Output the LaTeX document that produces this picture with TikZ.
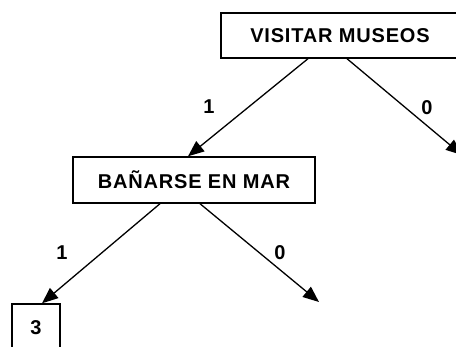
\documentclass[tikz,border=0pt]{standalone}
\usepackage{fontspec}
\setmainfont{Liberation Sans}
\usetikzlibrary{arrows.meta,calc}
\newfontfamily\boxfont[LetterSpace=4]{Liberation Sans}
\begin{document}
\begin{tikzpicture}[x=1pt,y=-1pt,
  box/.style={draw,line width=1.4pt,inner sep=0pt,font=\boxfont\fontsize{20}{23}\selectfont\bfseries},
  lbl/.style={inner sep=0pt,font=\fontsize{20}{23}\selectfont\bfseries},
  arr/.style={line width=1.3pt,-{Triangle[length=16pt,width=13pt]}}]
\useasboundingbox (0,0) rectangle (456,347);
\clip (0,0) rectangle (456,347);
\node[box,minimum width=238pt,minimum height=45pt] (v) at (340,35.5) {VISITAR MUSEOS};
\node[box,minimum width=242pt,minimum height=46pt] (b) at (194,180) {BAÑARSE EN MAR};
\node[box,minimum width=48pt,minimum height=48pt] (t) at (36,328) {3};
\coordinate (vr) at (462,155);
\coordinate (br) at (319,302);
\draw[arr] ($(v.south)+(-32,0)$) -- ($(b.north)+(-6,0)$);
\draw[arr] ($(v.south)+(7,0)$) -- (vr);
\draw[arr] ($(b.south)+(-34,0)$) -- ($(t.north)+(6,0)$);
\draw[arr] ($(b.south)+(6,0)$) -- (br);
\node[lbl] (l1) at (209,107) {1};
\node[lbl] (l2) at (427,108) {0};
\node[lbl] (l3) at (62,253) {1};
\node[lbl] (l4) at (280,253) {0};
\end{tikzpicture}
\end{document}
